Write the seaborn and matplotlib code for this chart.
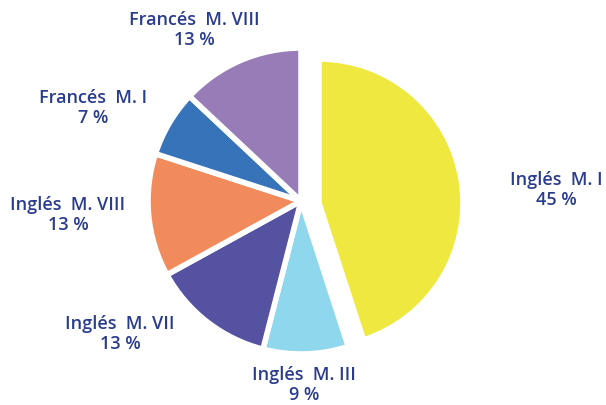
import matplotlib
matplotlib.use("Agg")
import matplotlib.pyplot as plt
import seaborn as sns

# Distribution of language modules
categories = ["Inglés  M. I", "Inglés  M. III", "Inglés  M. VII",
              "Inglés  M. VIII", "Francés  M. I", "Francés  M. VIII"]
shares = [45, 9, 13, 13, 7, 13]
colors = ["#EFE83F", "#8FD7EC", "#5652A2", "#F28B5B", "#3673B9", "#977CB7"]

# label anchor positions (pixel space, y up)
label_pos = [(556, 216), (304, 21), (120, 72), (68, 191), (93, 298), (194, 376)]

sns.set_theme(style="white")
plt.rcParams["font.family"] = ["Open Sans", "DejaVu Sans"]

fig = plt.figure(figsize=(6.06, 4.06), dpi=100)
ax = fig.add_axes([0, 0, 1, 1])

wedges, _ = ax.pie(
    shares,
    colors=colors,
    startangle=90,
    counterclock=False,
    radius=153,
    center=(301, 204),
    wedgeprops=dict(edgecolor="white", linewidth=4),
    frame=True,
)
# the leading slice is pulled out and slightly smaller
wedges[0].set_center((319, 202))
wedges[0].set_radius(144)

for name, val, (x, y) in zip(categories, shares, label_pos):
    ax.text(x, y, f"{name}\n{val} %", ha="center", va="center",
            fontsize=13, fontweight="semibold", color="#2A3C8E",
            linespacing=1.1)

ax.set_xlim(0, 606)
ax.set_ylim(0, 406)
ax.set_aspect("equal")
ax.axis("off")

fig.savefig("out.png", dpi=100)
